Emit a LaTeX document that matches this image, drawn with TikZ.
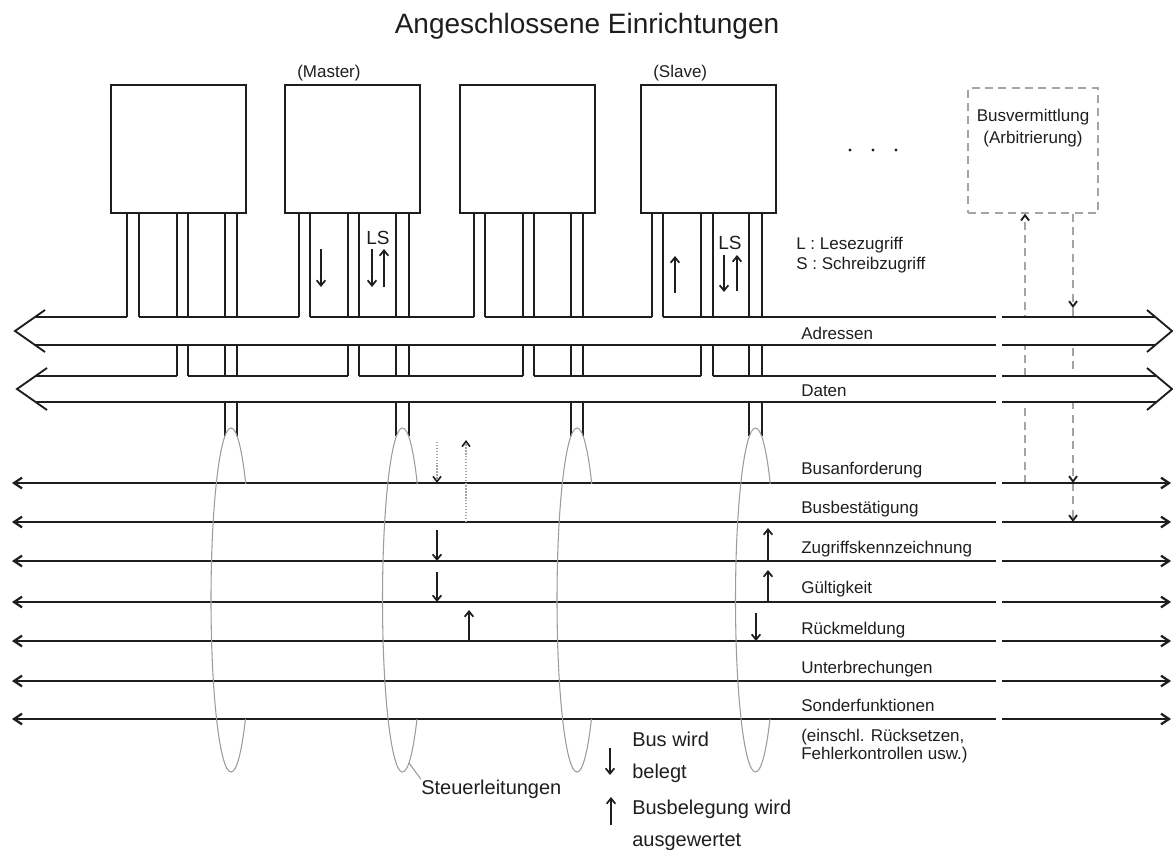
\documentclass[tikz,border=0pt]{standalone}
\usepackage{fontspec}
\setmainfont{Liberation Sans}
\usetikzlibrary{arrows.meta}
\definecolor{ink}{HTML}{1E1E1E}
\definecolor{loopgray}{HTML}{9C9C9C}
\definecolor{dashgray}{HTML}{A4A4A4}
\newcommand\pxsize[1]{\fontsize{#1}{#1}\selectfont}
\begin{document}
\begin{tikzpicture}[x=0.75pt,y=-0.75pt,
  wire/.style={draw=ink,line width=1.4pt},
  ctrl/.style={draw=ink,line width=1.7pt},
  devbox/.style={draw=ink,line width=1.4pt,minimum width=101.25pt,minimum height=96pt,inner sep=0pt},
  arbbox/.style={draw=dashgray,line width=1pt,dash pattern=on 6pt off 4pt,minimum width=97.5pt,minimum height=93.75pt,inner sep=0pt},
  lbl/.style={inner sep=0pt,anchor=base west,text=ink,font=\pxsize{12.75pt}},
  big/.style={inner sep=0pt,anchor=base west,text=ink,font=\pxsize{15pt}},
  sig/.style={draw=ink,line width=1.3pt,-{Straight Barb[length=4pt,width=6.5pt]}},
  arbline/.style={draw=dashgray,line width=1pt,dash pattern=on 6pt off 4pt},
  arbtip/.style={-{Straight Barb[length=4pt,width=6pt,color=ink,line width=1.4pt]}},
  hint/.style={draw=dashgray,line width=0.8pt,dash pattern=on 1pt off 1.2pt,-{Straight Barb[length=4pt,width=6pt,color=ink,line width=1.2pt]}},
  loopline/.style={draw=loopgray,line width=0.8pt},
]
\useasboundingbox (0,0) rectangle (1173,849);

% title
\node[inner sep=0pt,anchor=base,text=ink,font=\pxsize{21pt}] (title) at (587,34) {Angeschlossene Einrichtungen};

% attached devices
\node[devbox] (dev1) at (178.5,149) {};
\node[devbox] (dev2) at (352.5,149) {};
\node[devbox] (dev3) at (527.5,149) {};
\node[devbox] (dev4) at (708.5,149) {};
\node[lbl] (master) at (297,78) {(Master)};
\node[lbl] (slave) at (653,78) {(Slave)};
\foreach \x in {850,873,896} \fill[ink] (\x,150) circle (1.2pt);

% bus arbiter
\node[arbbox] (arb) at (1033,150.5) {};
\node[inner sep=0pt,anchor=base,text=ink,font=\pxsize{12.75pt}] (arbA) at (1033,121) {Busvermittlung};
\node[inner sep=0pt,anchor=base,text=ink,font=\pxsize{12.75pt}] (arbB) at (1033,143) {(Arbitrierung)};

% stubs: address, data, control
\foreach \a/\b/\d/\e/\c/\f in {127/139/177/188/225/237, 299/310/348/359/396/409, 474/485/523/534/571/583, 652/663/701/713/749/762}{
  \draw[wire] (\a,213) -- (\a,317) (\b,213) -- (\b,317);
  \draw[wire] (\d,213) -- (\d,376) (\e,213) -- (\e,376);
  \draw[wire] (\c,213) -- (\c,436) (\f,213) -- (\f,436);
}

% arbitration request / grant
\coordinate (req) at (1025,483);
\coordinate (gnt) at (1073,522);
\draw[arbline,arbtip] (req) -- (req |- arb.south);
\draw[arbline,arbtip] (gnt |- arb.south) -- (1073,308);
\draw[arbline,arbtip] (1073,308) -- (1073,483);
\draw[arbline,arbtip] (1073,483) -- (gnt);

% address bus
\fill[white] (36,317) -- (1155,317) -- (1172,331) -- (1156,345) -- (34,345) -- (15,331) -- cycle;
\draw[wire] (45,310) -- (15,331) -- (45,352);
\draw[wire] (1147,310) -- (1172,331) -- (1147,352);
\draw[wire] (34,345) -- (996,345) (1002,345) -- (1156,345);
\draw[wire] (36,317) -- (127,317) (139,317) -- (299,317) (310,317) -- (474,317)
  (485,317) -- (652,317) (663,317) -- (996,317) (1002,317) -- (1155,317);
\node[lbl] (addr) at (801,339) {Adressen};

% data bus
\fill[white] (36,376) -- (1156,376) -- (1172,389) -- (1156,402) -- (36,402) -- (17,389) -- cycle;
\draw[wire] (47,368) -- (17,389) -- (47,410);
\draw[wire] (1147,368) -- (1172,389) -- (1147,410);
\draw[wire] (36,402) -- (996,402) (1002,402) -- (1156,402);
\draw[wire] (36,376) -- (177,376) (188,376) -- (348,376) (359,376) -- (523,376)
  (534,376) -- (701,376) (713,376) -- (996,376) (1002,376) -- (1156,376);
\node[lbl] (data) at (801,396) {Daten};

% control lines
\foreach \y in {483,522,561,602,641,681,719}{
  \draw[ctrl,{Straight Barb[length=6pt,width=8pt]}-] (12,\y) -- (996,\y);
  \draw[ctrl,-{Straight Barb[length=6pt,width=8pt]}] (1002,\y) -- (1171,\y);
}
\node[lbl] (c1) at (801,474) {Busanforderung};
\node[lbl] (c2) at (801,513) {Busbestätigung};
\node[lbl] (c3) at (801,553) {Zugriffskennzeichnung};
\node[lbl] (c4) at (801,593) {Gültigkeit};
\node[lbl] (c5) at (801,634) {Rückmeldung};
\node[lbl] (c6) at (801,673) {Unterbrechungen};
\node[lbl] (c7) at (801,711) {Sonderfunktionen};
\node[lbl] (c7a) at (801,741) {(einschl. Rücksetzen,};
\node[lbl] (c7b) at (801,759) {Fehlerkontrollen usw.)};

% control-line bundles
\foreach \cx in {231,402.5,577,755.5}{
  \begin{scope}
    \clip (\cx-40,400) rectangle (\cx,800);
    \draw[loopline] (\cx,600) ellipse [x radius=15pt,y radius=129pt];
  \end{scope}
  \begin{scope}
    \clip (\cx,400) rectangle (\cx+40,483);
    \draw[loopline] (\cx,600) ellipse [x radius=15pt,y radius=129pt];
  \end{scope}
  \begin{scope}
    \clip (\cx,719) rectangle (\cx+40,800);
    \draw[loopline] (\cx,600) ellipse [x radius=15pt,y radius=129pt];
  \end{scope}
}
\node[inner sep=0pt,anchor=base west,text=ink,font=\pxsize{15pt}] (steuer) at (421,794) {Steuerleitungen};
\coordinate (loopfoot) at (409,763);
\draw[loopline] (loopfoot) -- (steuer.north west);

% stub signals
\draw[sig] (321,249) -- (321,287);
\node[inner sep=0pt,anchor=base,text=ink,font=\pxsize{14.25pt}] (ls2) at (378,244) {LS};
\draw[sig] (372,249) -- (372,287);
\draw[sig] (384,287) -- (384,249);
\draw[sig] (675,293) -- (675,256);
\node[inner sep=0pt,anchor=base,text=ink,font=\pxsize{14.25pt}] (ls4) at (730,249) {LS};
\draw[sig] (724,255) -- (724,292);
\draw[sig] (737,291) -- (737,255);
\node[lbl] (keyL) at (796,249) {L : Lesezugriff};
\node[lbl] (keyS) at (796,269) {S : Schreibzugriff};

% control signal activity
\draw[hint] (437,442) -- (437,483);
\draw[hint] (466,522) -- (466,440);
\draw[sig] (437,530) -- (437,561);
\draw[sig] (437,572) -- (437,602);
\draw[sig] (469,641) -- (469,610);
\draw[sig] (768,561) -- (768,528);
\draw[sig] (768,602) -- (768,570);
\draw[sig] (756,613) -- (756,641);

% legend
\draw[sig] (610,748) -- (610,775);
\node[big] (leg1a) at (632,746) {Bus wird};
\node[big] (leg1b) at (632,778) {belegt};
\draw[sig] (611,825) -- (611,797);
\node[big] (leg2a) at (632,814) {Busbelegung wird};
\node[big] (leg2b) at (632,846) {ausgewertet};
\end{tikzpicture}
\end{document}
